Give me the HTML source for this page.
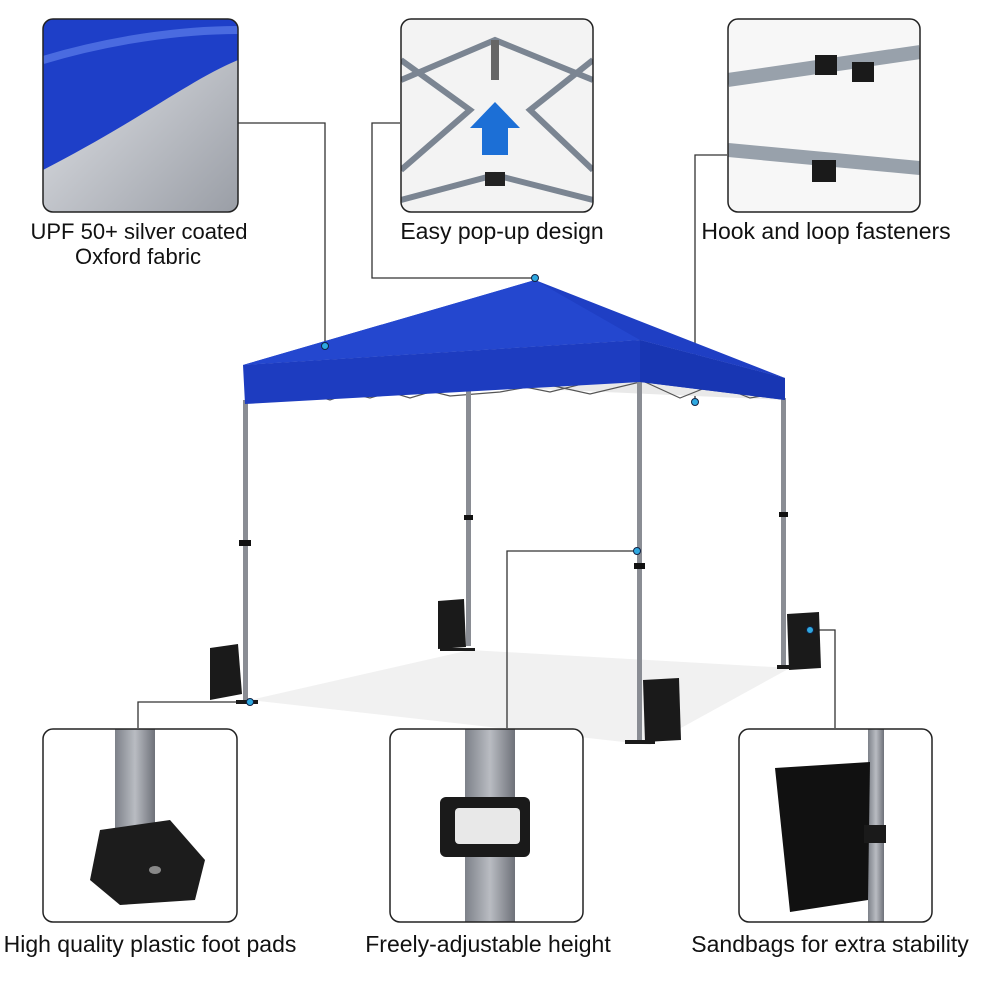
<!DOCTYPE html>
<html><head><meta charset="utf-8"><style>
html,body{margin:0;padding:0;background:#fff;}
svg{display:block}
text{font-family:"Liberation Sans",sans-serif;font-size:23px;fill:#111;}
</style></head><body>
<svg width="1000" height="1000" viewBox="0 0 1000 1000" xmlns="http://www.w3.org/2000/svg">
<defs>
<clipPath id="c1"><rect x="43" y="19" width="195" height="193" rx="10"/></clipPath>
<clipPath id="c2"><rect x="401" y="19" width="192" height="193" rx="10"/></clipPath>
<clipPath id="c3"><rect x="728" y="19" width="192" height="193" rx="10"/></clipPath>
<clipPath id="c4"><rect x="43" y="729" width="194" height="193" rx="10"/></clipPath>
<clipPath id="c5"><rect x="390" y="729" width="193" height="193" rx="10"/></clipPath>
<clipPath id="c6"><rect x="739" y="729" width="193" height="193" rx="10"/></clipPath>
<linearGradient id="silver" x1="0" y1="0" x2="1" y2="1"><stop offset="0" stop-color="#e8eaee"/><stop offset="1" stop-color="#9a9ea6"/></linearGradient>
<linearGradient id="pole" x1="0" x2="1"><stop offset="0" stop-color="#7d8189"/><stop offset=".5" stop-color="#b9bcc2"/><stop offset="1" stop-color="#6e7179"/></linearGradient>
</defs>

<polygon points="250,700 470,650 790,668 650,745" fill="#f1f1f1"/>

<g stroke="#333" stroke-width="1.3" fill="none">
<polyline points="238,123 325,123 325,346"/>
<polyline points="400,123 372,123 372,278 535,278"/>
<polyline points="727,155 695,155 695,402"/>
<polyline points="138,728 138,702 250,702"/>
<polyline points="507,728 507,551 637,551"/>
<polyline points="835,728 835,630 810,630"/>
</g>

<polygon points="245,404 640,380 785,400 470,386" fill="#e9e9e9"/>
<polyline points="250,402 290,388 330,400 370,386 410,398 450,386 470,390 510,384 550,392 590,382 640,380" stroke="#555" fill="none" stroke-width="1.2"/>
<polyline points="250,388 290,400 330,388 370,398 410,386 450,396 500,392 545,384 590,394 640,382" stroke="#555" fill="none" stroke-width="1.2"/>
<polyline points="645,382 680,398 715,384 750,398 785,392" stroke="#555" fill="none" stroke-width="1.2"/>

<g fill="#8a8d94">
<rect x="243" y="400" width="5" height="302"/>
<rect x="466" y="388" width="5" height="258"/>
<rect x="637" y="378" width="5" height="364"/>
<rect x="781" y="398" width="5" height="270"/>
</g>
<g fill="#111">
<rect x="239" y="540" width="12" height="6"/><rect x="464" y="515" width="9" height="5"/>
<rect x="634" y="563" width="11" height="6"/><rect x="779" y="512" width="9" height="5"/>
</g>
<g fill="#1a1a1a">
<path d="M210,648 l28,-4 l4,50 l-32,6 z"/>
<path d="M438,601 l26,-2 l2,48 l-28,2 z"/>
<path d="M643,680 l36,-2 l2,62 l-36,2 z"/>
<path d="M787,614 l32,-2 l2,56 l-32,2 z"/>
<rect x="625" y="740" width="30" height="4"/><rect x="440" y="648" width="35" height="3"/>
<rect x="777" y="665" width="20" height="4"/><rect x="236" y="700" width="22" height="4"/>
</g>

<polygon points="243,365 535,280 785,378 640,340" fill="#1f3fc4"/>
<polygon points="243,365 535,280 640,340" fill="#2447cf"/>
<polygon points="243,365 640,340 785,378 785,400 640,382 245,404" fill="#1d3cc0"/>
<polygon points="640,340 785,378 785,400 640,382" fill="#1836b3"/>

<g fill="#2ea8e0" stroke="#124" stroke-width="1">
<circle cx="325" cy="346" r="3.5"/><circle cx="535" cy="278" r="3.5"/><circle cx="695" cy="402" r="3.5"/>
<circle cx="250" cy="702" r="3.5"/><circle cx="637" cy="551" r="3.5"/><circle cx="810" cy="630" r="3.5"/>
</g>

<g clip-path="url(#c1)">
<rect x="43" y="19" width="195" height="193" fill="url(#silver)"/>
<path d="M43,19 H238 V60 C190,80 140,120 43,170 Z" fill="#1e3fc8"/>
<path d="M43,60 C110,40 180,30 238,30" stroke="#4a6be0" stroke-width="8" fill="none"/>
</g>
<rect x="43" y="19" width="195" height="193" rx="10" fill="none" stroke="#222" stroke-width="1.5"/>

<g clip-path="url(#c2)">
<rect x="401" y="19" width="192" height="193" fill="#f3f3f3"/>
<g stroke="#7b8592" stroke-width="6" fill="none">
<path d="M401,80 L495,40 L593,80"/><path d="M401,60 L470,110 L401,170"/><path d="M593,60 L530,110 L593,170"/>
<path d="M401,200 L495,175 L593,200"/>
</g>
<rect x="491" y="40" width="8" height="40" fill="#666"/>
<path d="M482,128 h-12 l25,-26 l25,26 h-12 v27 h-26z" fill="#1c6fd6"/>
<rect x="485" y="172" width="20" height="14" fill="#222"/>
</g>
<rect x="401" y="19" width="192" height="193" rx="10" fill="none" stroke="#222" stroke-width="1.5"/>

<g clip-path="url(#c3)">
<rect x="728" y="19" width="192" height="193" fill="#f7f7f7"/>
<path d="M728,80 L920,52" stroke="#98a1ab" stroke-width="14"/>
<path d="M728,150 L920,168" stroke="#98a1ab" stroke-width="14"/>
<rect x="815" y="55" width="22" height="20" fill="#1a1a1a"/><rect x="852" y="62" width="22" height="20" fill="#1a1a1a"/>
<rect x="812" y="160" width="24" height="22" fill="#1a1a1a"/>
</g>
<rect x="728" y="19" width="192" height="193" rx="10" fill="none" stroke="#222" stroke-width="1.5"/>

<g clip-path="url(#c4)">
<rect x="43" y="729" width="194" height="193" fill="#fff"/>
<rect x="115" y="729" width="40" height="110" fill="url(#pole)"/>
<path d="M100,830 L170,820 L205,860 L195,900 L120,905 L90,880 Z" fill="#1c1c1c"/>
<ellipse cx="155" cy="870" rx="6" ry="4" fill="#888"/>
</g>
<rect x="43" y="729" width="194" height="193" rx="10" fill="none" stroke="#222" stroke-width="1.5"/>

<g clip-path="url(#c5)">
<rect x="390" y="729" width="193" height="193" fill="#fff"/>
<rect x="465" y="729" width="50" height="193" fill="url(#pole)"/>
<rect x="440" y="797" width="90" height="60" rx="6" fill="#1a1a1a"/>
<rect x="455" y="808" width="65" height="36" rx="4" fill="#e8e8e8"/>
</g>
<rect x="390" y="729" width="193" height="193" rx="10" fill="none" stroke="#222" stroke-width="1.5"/>

<g clip-path="url(#c6)">
<rect x="739" y="729" width="193" height="193" fill="#fff"/>
<rect x="868" y="729" width="16" height="193" fill="url(#pole)"/>
<path d="M775,768 L870,762 L868,900 L790,912 Z" fill="#111"/>
<rect x="864" y="825" width="22" height="18" fill="#1a1a1a"/>
</g>
<rect x="739" y="729" width="193" height="193" rx="10" fill="none" stroke="#222" stroke-width="1.5"/>

<g text-anchor="middle">
<text x="139" y="239" style="font-size:22px">UPF 50+ silver coated</text>
<text x="138" y="264" style="font-size:22px">Oxford fabric</text>
<text x="502" y="239">Easy pop-up design</text>
<text x="826" y="239">Hook and loop fasteners</text>
<text x="150" y="952">High quality plastic foot pads</text>
<text x="488" y="952">Freely-adjustable height</text>
<text x="830" y="952">Sandbags for extra stability</text>
</g>
</svg>
</body></html>
